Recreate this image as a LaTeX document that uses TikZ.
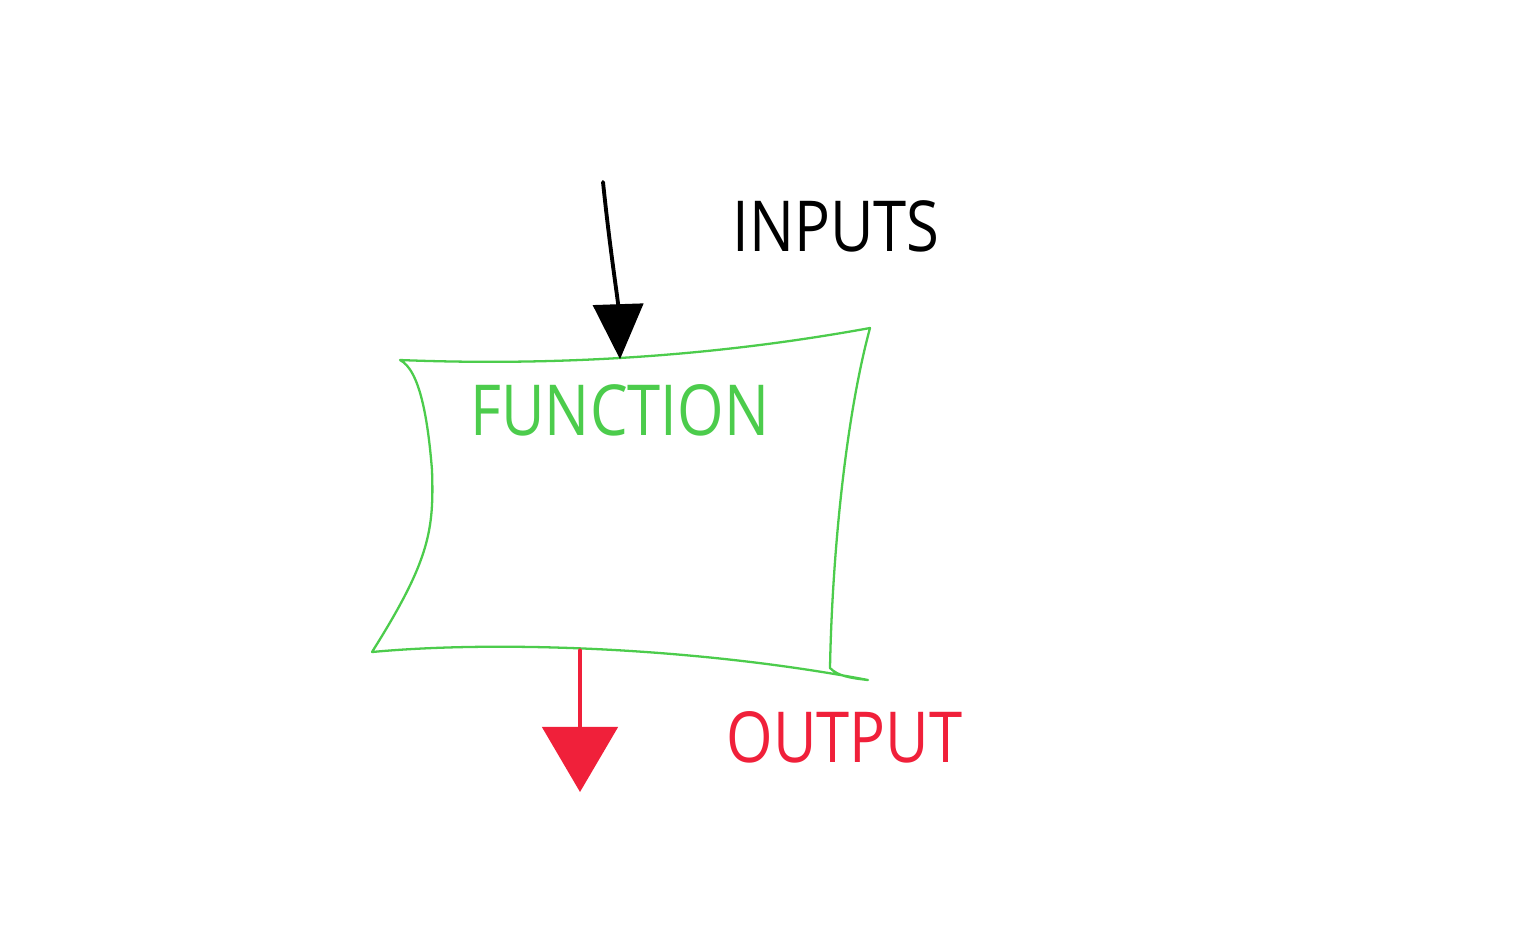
\documentclass[tikz,border=0pt]{standalone}
\usepackage{fontspec}
\setsansfont{Open Sans}
\usetikzlibrary{arrows.meta}
\definecolor{sketchgreen}{HTML}{4CCC4C}
\definecolor{sketchred}{HTML}{F0203A}
\tikzset{
  hand/.style={line width=0.65pt, line cap=round, line join=round},
  label/.style={font=\sffamily\fontsize{20}{20}\selectfont, inner sep=0pt, xscale=0.85},
  inarrow/.style={hand, black, line width=1.1pt, -{Triangle[length=0.55cm, width=0.5cm]}},
  outarrow/.style={hand, sketchred, line width=1.4pt, -{Triangle[length=0.65cm, width=0.75cm]}},
}
\begin{document}
\begin{tikzpicture}[x=0.01cm, y=-0.01cm]
  \useasboundingbox (0,0) rectangle (1536,944);
  \fill[white] (0,0) rectangle (1536,944);
  % function box (hand-drawn outline)
  \node[minimum width=4.6cm, minimum height=2.9cm, inner sep=0pt] (func) at (620,505) {};
  \draw[hand, sketchgreen]
    (400,360) .. controls (420,370) and (428,420) .. (432,470)
    .. controls (434,530) and (430,560) .. (372,652)
    .. controls (500,640) and (700,648) .. (868,680)
    .. controls (850,678) and (838,676) .. (830,668)
    .. controls (832,560) and (845,420) .. (870,328)
    .. controls (760,348) and (600,368) .. (400,360);
  \node[label, sketchgreen, anchor=west] (fname) at (470,410) {FUNCTION};
  % input
  \coordinate (inStart) at (603,182);
  \draw[inarrow] (inStart) .. controls (610,250) and (618,300) .. (func.north);
  \node[label, black, anchor=west] (inputs) at (732,226) {INPUTS};
  % output
  \coordinate (outEnd) at (580,792);
  \draw[outarrow] (func.south -| outEnd) -- (outEnd);
  \node[label, sketchred, anchor=west] (output) at (726,737) {OUTPUT};
\end{tikzpicture}
\end{document}
